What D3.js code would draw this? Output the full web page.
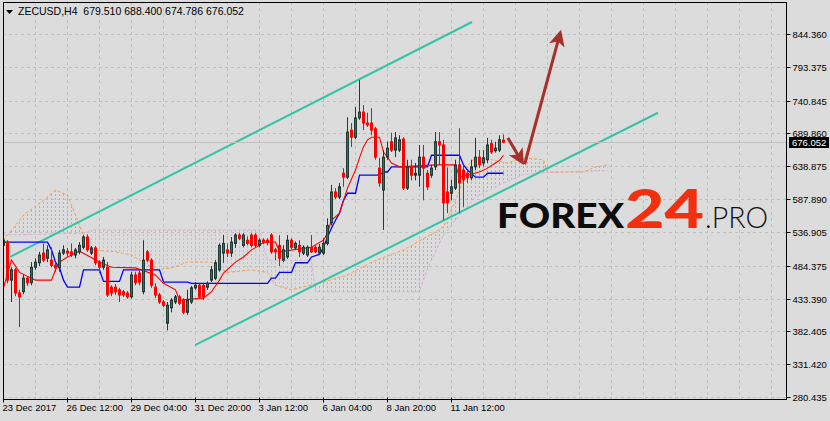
<!DOCTYPE html>
<html><head><meta charset="utf-8">
<script src="https://cdn.jsdelivr.net/npm/d3@7"></script>
<style>
body{margin:0;background:#dcdcdc;}
svg{display:block;}
.ax{font-family:"Liberation Sans",Arial,sans-serif;font-size:9.5px;fill:#000;}
</style>
</head><body>
<svg id="chart" width="830" height="421"></svg>
<script>
// ---------------- DATA ----------------
const symbol = "ZECUSD,H4";
const headerOHLC = [679.510, 688.400, 674.786, 676.052];
const lastPrice = 676.052;

const tickLabels = ["23 Dec 2017","26 Dec 12:00","29 Dec 04:00","31 Dec 20:00","3 Jan 12:00","6 Jan 04:00","8 Jan 20:00","11 Jan 12:00"];
const barsPerTick = 16;
const priceTicks = [844.360, 793.375, 740.845, 689.860, 638.875, 587.890, 536.905, 484.375, 433.390, 382.405, 331.420, 280.435];

const open = [
516,521,462,478,442,444,465,458,482,489,
504,496,493,485,481,504,507,506,501,506,
513,529,504,512,490,482,482,451,451,447,
444,442,436,470,473,444,506,493,451,439,
428,395,419,428,436,431,412,428,450,454,
454,451,462,465,478,504,509,504,519,532,
516,524,532,532,516,524,524,532,509,516,
493,498,524,512,516,504,501,513,513,504,
504,519,551,599,591,628,622,695,684,714,
723,706,706,697,636,602,653,677,664,664,
681,605,638,625,625,653,628,625,638,677,
672,599,597,605,641,633,628,621,638,653,
644,649,674,663,664,679.510];
const high = [
530,524,482,481,447,470,468,490,496,506,
519,516,513,490,509,516,512,519,512,521,
532,533,515,515,493,498,490,454,456,450,
447,445,475,475,478,524,509,496,457,442,
431,428,434,439,439,434,447,453,459,457,
457,460,484,493,519,532,519,529,535,535,
535,530,535,535,527,527,527,535,512,532,
516,532,527,522,524,516,516,532,516,518,
527,558,610,605,613,636,715,706,731,773,
734,722,729,700,652,664,677,691,692,687,
684,649,649,644,672,672,633,641,692,692,
680,637,618,649,698,641,633,649,683,664,
664,683,680,677,687,688.400];
const low = [
511,457,428,437,389,440,453,454,478,484,
490,490,482,475,475,501,499,498,496,502,
510,506,501,485,473,478,436,437,439,428,
436,433,433,454,454,440,490,450,434,425,
420,384,412,425,423,409,408,425,447,433,
431,447,459,462,475,489,498,498,512,524,
513,516,513,513,513,518,516,503,493,484,
490,495,510,509,498,501,498,504,504,501,
501,516,547,588,588,607,619,669,681,711,
695,700,687,649,607,540,649,661,653,661,
602,602,617,617,607,586,602,621,633,641,
555,566,586,602,566,576,613,617,633,636,
639,644,658,660,661,674.786];
const close = [
524,462,478,442,436,465,458,482,490,501,
493,509,485,481,504,509,504,501,509,516,
529,509,512,489,482,493,439,442,444,439,
439,436,470,458,459,493,493,454,439,428,
423,423,431,436,426,412,431,450,454,436,
436,457,478,489,516,519,504,521,532,527,
532,519,516,516,524,521,521,506,506,496,
509,524,513,519,506,513,513,506,506,513,
519,547,599,591,607,622,692,684,714,723,
706,703,695,653,613,653,667,664,683,680,
605,638,625,628,653,636,607,636,677,672,
582,582,607,641,613,618,621,638,653,641,
652,672,661,667,680,676.052];

// Ichimoku lines: [bar index, price]
const tenkan = [[0,450],[2,493],[4,474],[8,462],[12,462],[13,478],[14,490],[16,498],[19,507],[24,490],[27,482],[33,481],[38,470],[40,457],[43,447],[44,431],[50,434],[52,444],[54,462],[55,473],[58,490],[60,498],[62,509],[64,516],[65,521],[68,521],[69,506],[77,513],[80,524],[81,535],[82,555],[84,566],[86,605],[88,633],[89,652],[90,669],[91,680],[92,684],[94,684],[95,661],[96,653],[97,644],[99,638],[108,641],[113,641],[114,622],[119,630],[121,636],[123,644],[124,648],[125,656]];
const kijun = [[0,521],[11,521],[12,509],[13,490],[14,481],[15,462],[16,451],[19,451],[20,478],[24,478],[25,460],[29,460],[30,478],[39,478],[40,459],[46,459],[47,457],[66,457],[67,465],[68,465],[69,474],[72,474],[73,489],[76,489],[77,498],[79,502],[80,513],[81,529],[82,543],[83,555],[84,566],[85,586],[86,597],[88,597],[89,625],[94,625],[95,630],[96,630],[97,638],[106,638],[107,656],[114,656],[115,641],[116,633],[118,622],[120,622],[121,628],[125,628]];
const senkouA = [[0,524],[5,563],[10,586],[13,602],[16,594],[18,563],[20,532],[22,509],[28,506],[32,501],[38,478],[42,481],[46,490],[52,490],[56,474],[62,478],[66,474],[68,454],[72,447],[80,459],[86,470],[92,490],[100,509],[108,537],[110,545],[114,600],[116,640],[118,652],[122,649],[126,644],[130,652],[135,649],[136,630],[145,630],[148,638],[151,641]];
const senkouB = [[0,532],[20,535],[22,540],[64,540],[66,493],[77,493],[78,444],[104,444],[106,480],[110,532],[114,563],[118,591],[124,610],[130,626],[136,629],[151,632]];

// drawn objects: [bar index, price]
const channelUpper = [[1.75,498],[117.25,863]];
const channelLower = [[48,361],[163.75,722]];
const arrowDown = [[126.2,683],[129.8,645]];
const arrowUp = [[130.4,642],[139.3,846]];

// ---------------- CHART ----------------
const W = 830, H = 421;
const L = 3, R = 787, T = 2, B = 400;
const svg = d3.select("#chart");
svg.append("rect").attr("width",W).attr("height",H).attr("fill","#dcdcdc");

const x = d3.scaleLinear().domain([0,196]).range([L, R]);
const y = d3.scaleLinear().domain([280.435, 844.360]).range([397, 34]);
const orange = "#f5a056", thistle = "#d8b0d8";

const defs = svg.append("defs");
defs.append("clipPath").attr("id","plot").append("rect").attr("x",L).attr("y",T).attr("width",R-L).attr("height",B-T);

// grid
const grid = svg.append("g").attr("clip-path","url(#plot)");
grid.selectAll("line.h").data(priceTicks).join("line")
  .attr("x1",L).attr("x2",R).attr("y1",d=>Math.round(y(d))+0.5).attr("y2",d=>Math.round(y(d))+0.5)
  .attr("stroke","#c0c0c0").attr("stroke-dasharray","3,3");
const vgrid = d3.range(8, 196, 8);
grid.selectAll("line.v").data(vgrid).join("line")
  .attr("y1",T).attr("y2",B).attr("x1",d=>x(d)+0.5).attr("x2",d=>x(d)+0.5)
  .attr("stroke","#c0c0c0").attr("stroke-dasharray","3,3");

const plot = svg.append("g").attr("clip-path","url(#plot)");
const line = d3.line().x(d=>x(d[0])+0.5).y(d=>y(d[1]));

// cloud: dashed vertical bar hatching clipped to the area between Senkou A and B
const Apts = senkouA.map(d=>[x(d[0])+0.5, y(d[1])]);
const Bpts = senkouB.map(d=>[x(d[0])+0.5, y(d[1])]);
const poly = d3.line();
const cloudPath = poly(Apts.concat(Bpts.slice().reverse())) + "Z";
const aboveB = poly(Bpts.concat([[Bpts[Bpts.length-1][0]+2,0],[Bpts[0][0]-2,0]])) + "Z";
const belowB = poly(Bpts.concat([[Bpts[Bpts.length-1][0]+2,H],[Bpts[0][0]-2,H]])) + "Z";
defs.append("clipPath").attr("id","cCloud").append("path").attr("d",cloudPath);
defs.append("clipPath").attr("id","cAbove").append("path").attr("d",aboveB);
defs.append("clipPath").attr("id","cBelow").append("path").attr("d",belowB);
const barsCloud = d3.range(0, senkouA[senkouA.length-1][0] + 1);
[["cAbove",orange],["cBelow",thistle]].forEach(([cid,col])=>{
  plot.append("g").attr("clip-path",`url(#${cid})`)
    .append("g").attr("clip-path","url(#cCloud)")
    .selectAll("line").data(barsCloud).join("line")
    .attr("x1",i=>x(i)+0.5).attr("x2",i=>x(i)+0.5).attr("y1",T).attr("y2",B)
    .attr("stroke",col).attr("stroke-dasharray","2,2");
});
plot.append("path").attr("d",line(senkouB)).attr("fill","none").attr("stroke",thistle).attr("stroke-dasharray","3,2");
plot.append("path").attr("d",line(senkouA)).attr("fill","none").attr("stroke",orange).attr("stroke-dasharray","3,2");

// channel
[channelUpper, channelLower].forEach(c=>{
  plot.append("path").attr("d",d3.line().x(d=>x(d[0])).y(d=>y(d[1]))(c))
    .attr("stroke","#33c4a6").attr("stroke-width",2).attr("fill","none");
});

// current price line
plot.append("line").attr("x1",L).attr("x2",R).attr("y1",Math.round(y(lastPrice))+0.5).attr("y2",Math.round(y(lastPrice))+0.5)
  .attr("stroke","#c0c0c0");

// ichimoku lines
plot.append("path").attr("d",line(kijun)).attr("fill","none").attr("stroke","#0000ff").attr("stroke-width",1.3);
plot.append("path").attr("d",line(tenkan)).attr("fill","none").attr("stroke","#ff0000").attr("stroke-width",1.1);

// candles
const idx = d3.range(close.length);
const cg = plot.append("g");
cg.selectAll("line.w").data(idx).join("line")
  .attr("x1",i=>x(i)+0.5).attr("x2",i=>x(i)+0.5)
  .attr("y1",i=>y(high[i])).attr("y2",i=>y(low[i]))
  .attr("stroke",i=>close[i]>=open[i]?"#203a35":"#ff0000");
cg.selectAll("rect").data(idx).join("rect")
  .attr("x",i=>x(i)-0.5).attr("width",2)
  .attr("y",i=>y(Math.max(open[i],close[i])))
  .attr("height",i=>Math.max(1,Math.abs(y(open[i])-y(close[i]))))
  .attr("fill",i=>close[i]>=open[i]?"#3d6b5e":"#ff0000")
  .attr("stroke",i=>close[i]>=open[i]?"#203a35":"#ff0000");

// arrows
const arrowColor = "#a8302a";
defs.append("marker").attr("id","ah").attr("viewBox","0 0 10 10").attr("refX",8).attr("refY",5)
  .attr("markerUnits","userSpaceOnUse").attr("markerWidth",18).attr("markerHeight",16).attr("orient","auto")
  .append("path").attr("d","M0,0 L10,5 L0,10 L2.5,5 Z").attr("fill",arrowColor);
[arrowDown, arrowUp].forEach(a=>{
  svg.append("path").attr("d",d3.line().x(d=>x(d[0])).y(d=>y(d[1]))(a))
    .attr("stroke",arrowColor).attr("stroke-width",3).attr("fill","none").attr("marker-end","url(#ah)");
});

// logo
svg.append("text").attr("x",497).attr("y",228).attr("textLength",127).attr("lengthAdjust","spacingAndGlyphs")
  .style("font-family","Lato, sans-serif").style("font-weight",900).style("font-size","34px").attr("fill","#0d0d0d").text("FOREX");
svg.append("text").attr("x",625).attr("y",228).attr("textLength",79).attr("lengthAdjust","spacingAndGlyphs")
  .style("font-family","Lato, sans-serif").style("font-weight",900).style("font-size","53px").attr("fill","#f2300f").text("24");
svg.append("text").attr("x",705).attr("y",228).attr("textLength",63).attr("lengthAdjust","spacingAndGlyphs")
  .style("font-family","Lato, sans-serif").style("font-weight",300).style("font-size","29px").attr("fill","#111").text(".PRO");

// frame
svg.append("rect").attr("x",L+0.5).attr("y",T+0.5).attr("width",R-L-1).attr("height",B-T-1)
  .attr("fill","none").attr("stroke","#000");

// y axis
const yAxis = svg.append("g").attr("transform",`translate(${R-0.5},0)`)
  .call(d3.axisRight(y).tickValues(priceTicks).tickFormat(d3.format(".3f")).tickSize(4).tickPadding(2));
yAxis.select(".domain").remove();
yAxis.selectAll(".tick line").attr("stroke","#000");
yAxis.selectAll(".tick text").attr("class","ax").attr("font-family",null).attr("font-size",null).attr("x",6);
yAxis.selectAll(".tick").attr("transform",d=>`translate(0,${Math.round(y(d))+0.5})`);

// price label
const pl = svg.append("g").attr("transform",`translate(789,${Math.round(y(lastPrice))})`);
pl.append("rect").attr("x",0).attr("y",-5).attr("width",40).attr("height",11).attr("fill","#000");
pl.append("text").attr("class","ax").attr("x",3).attr("y",4).style("fill","#fff").text(d3.format(".3f")(lastPrice));

// x axis
const xt = tickLabels.map((d,k)=>k*barsPerTick);
const xAxis = svg.append("g")
  .call(d3.axisBottom(x).tickValues(xt).tickFormat((d,k)=>tickLabels[k]).tickSize(3).tickPadding(3));
xAxis.select(".domain").remove();
xAxis.selectAll(".tick").attr("transform",d=>`translate(${x(d)+0.5},${B-0.5})`);
xAxis.selectAll(".tick line").attr("y1",-2).attr("y2",3).attr("stroke","#000");
xAxis.selectAll(".tick text").attr("class","ax").attr("font-family",null).attr("font-size",null)
  .attr("text-anchor","start").attr("x",-1).attr("y",5).attr("dy","0.71em");

// header
svg.append("path").attr("d","M6,10 L13,10 L9.5,14 Z").attr("fill","#000");
svg.append("text").attr("class","ax").attr("x",18).attr("y",15).style("white-space","pre").style("font-size","10.5px")
  .text(symbol + "  " + headerOHLC.map(d3.format(".3f")).join(" "));
</script>
</body></html>
